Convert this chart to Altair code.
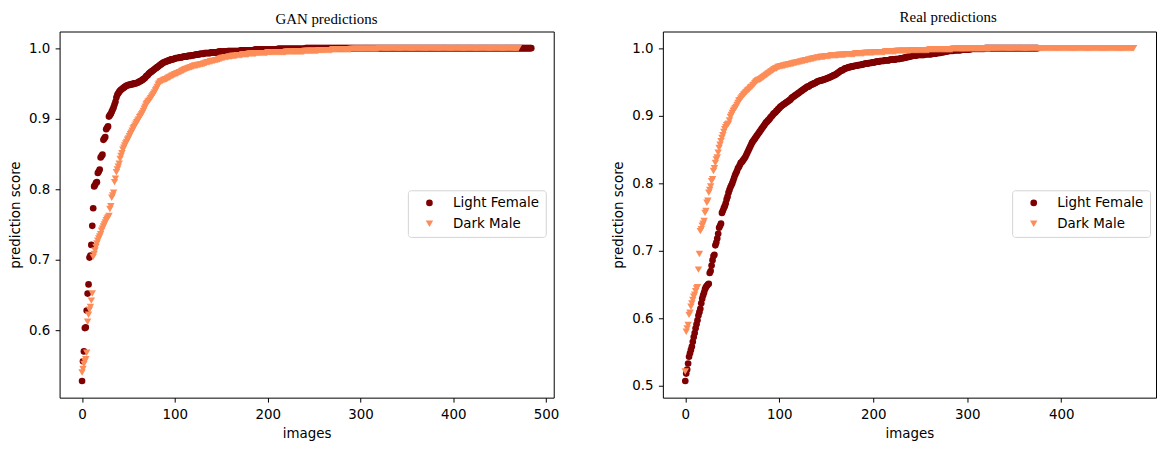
import altair as alt
import pandas as pd

GROUPS = ["Light Female", "Dark Male"]
COLORS = ["#7f0000", "#fc8d59"]
SHAPES = ["circle", "triangle-down"]

GAN_LIGHT_FEMALE = [
    0.528, 0.556, 0.570, 0.603, 0.604, 0.628, 0.652, 0.665, 0.703, 0.706,
    0.721, 0.748, 0.773, 0.804, 0.806, 0.809, 0.810, 0.823, 0.825, 0.828,
    0.845, 0.847, 0.849, 0.870, 0.872, 0.874, 0.885, 0.887, 0.889, 0.903,
    0.905, 0.907, 0.910, 0.913, 0.916, 0.920, 0.924, 0.930, 0.934, 0.936,
    0.938, 0.940, 0.941, 0.942, 0.943, 0.944, 0.945, 0.946, 0.947, 0.947,
    0.948, 0.948, 0.948, 0.949, 0.949, 0.949, 0.950, 0.950, 0.950, 0.951,
    0.951, 0.952, 0.953, 0.953, 0.954, 0.955, 0.956, 0.957, 0.958, 0.960,
    0.961, 0.962, 0.964, 0.965, 0.966, 0.967, 0.968, 0.969, 0.970, 0.971,
    0.972, 0.973, 0.974, 0.975, 0.976, 0.977, 0.978, 0.979, 0.980, 0.980,
    0.981, 0.981, 0.982, 0.982, 0.983, 0.983, 0.984, 0.984, 0.984, 0.985,
    0.985,
] + [0.986] * 4 + [0.987] * 4 + [0.988] * 5 + [0.989] * 4 + [0.990] * 4 \
  + [0.991] * 5 + [0.992] * 5 + [0.993] * 7 + [0.994] * 8 + [0.995] * 10 \
  + [0.996] * 14 + [0.997] * 15 + [0.998] * 25 + [0.999] * 30 + [1.0] * 244

GAN_DARK_MALE = [
    0.540, 0.545, 0.552, 0.556, 0.559, 0.568, 0.612, 0.622, 0.629, 0.633,
    0.642, 0.652, 0.704, 0.708, 0.713, 0.718, 0.723, 0.727, 0.730, 0.733,
    0.736, 0.741, 0.744, 0.747, 0.750, 0.753, 0.756, 0.758, 0.760, 0.762,
    0.772, 0.776, 0.788, 0.791, 0.795, 0.810, 0.815, 0.824, 0.828, 0.832,
    0.836, 0.843, 0.847, 0.851, 0.856, 0.859, 0.862, 0.865, 0.867, 0.870,
    0.872, 0.875, 0.878, 0.880, 0.883, 0.886, 0.888, 0.890, 0.893, 0.895,
    0.897, 0.899, 0.902, 0.904, 0.906, 0.908, 0.911, 0.914, 0.917, 0.920,
    0.922, 0.924, 0.925, 0.927, 0.929, 0.931, 0.933, 0.935, 0.937, 0.940,
    0.942, 0.945, 0.948, 0.950, 0.952, 0.953, 0.953, 0.954, 0.955, 0.955,
    0.956, 0.956, 0.957, 0.958, 0.958, 0.959, 0.960, 0.961, 0.961, 0.962,
    0.963, 0.963, 0.964, 0.964, 0.965, 0.966, 0.966, 0.967, 0.968, 0.968,
    0.969, 0.970, 0.970, 0.971, 0.971, 0.972, 0.972, 0.973, 0.973, 0.974,
    0.974,
] + [0.975] * 4 + [0.976] * 3 + [0.977] * 3 + [0.978] * 2 + [0.979] * 2 \
  + [0.980] * 3 + [0.981] * 3 + [0.982] * 3 + [0.983] * 3 + [0.984] * 2 \
  + [0.985] * 2 + [0.986] * 3 + [0.987] * 4 + [0.988] * 4 + [0.989] * 5 \
  + [0.990] * 6 + [0.991] * 7 + [0.992] * 8 + [0.993] * 12 + [0.994] * 20 \
  + [0.995] * 20 + [0.996] * 15 + [0.997] * 15 + [0.998] * 20 + [0.999] * 30 \
  + [1.0] * 151

REAL_LIGHT_FEMALE = [
    0.507, 0.518, 0.524, 0.533, 0.543, 0.548, 0.553, 0.558, 0.565, 0.572,
    0.578, 0.585, 0.591, 0.597, 0.604, 0.609, 0.614, 0.622, 0.629, 0.634,
    0.638, 0.643, 0.646, 0.648, 0.650, 0.651, 0.667, 0.670, 0.678, 0.686,
    0.692, 0.694, 0.708, 0.712, 0.718, 0.725, 0.734, 0.737, 0.740, 0.756,
    0.759, 0.763, 0.766, 0.770, 0.776, 0.780, 0.786, 0.790, 0.794, 0.797,
    0.800, 0.804, 0.808, 0.812, 0.815, 0.818, 0.822, 0.824, 0.827, 0.830,
    0.831, 0.833, 0.835, 0.837, 0.839, 0.842, 0.845, 0.848, 0.851, 0.854,
    0.857, 0.860, 0.862, 0.864, 0.866, 0.868, 0.870, 0.872, 0.874, 0.876,
    0.878, 0.880, 0.882, 0.884, 0.886, 0.888, 0.890, 0.891, 0.893, 0.894,
    0.896, 0.898, 0.899, 0.901, 0.903, 0.904, 0.905, 0.907, 0.908, 0.910,
    0.911, 0.913, 0.914, 0.915, 0.916, 0.917, 0.918, 0.919, 0.920, 0.921,
    0.922, 0.923, 0.924, 0.926, 0.927, 0.928, 0.929, 0.930, 0.931, 0.932,
    0.933, 0.934, 0.935, 0.936, 0.937, 0.938, 0.939, 0.940, 0.941, 0.942,
    0.943, 0.943, 0.944, 0.945, 0.946, 0.946, 0.947, 0.948, 0.948, 0.949,
    0.950,
] + [0.951] * 2 + [0.952] * 3 + [0.953] * 2 + [0.954] * 2 + [0.955] * 2 \
  + [0.956] * 2 + [0.957] + [0.958] * 2 + [0.959] + [0.960] * 2 + [0.961] \
  + [0.962] + [0.963] + [0.964] + [0.965] + [0.966] + [0.967] * 2 + [0.968] \
  + [0.969] + [0.970] * 2 + [0.971] * 2 + [0.972] * 3 + [0.973] * 3 \
  + [0.974] * 4 + [0.975] * 4 + [0.976] * 3 + [0.977] * 4 + [0.978] * 4 \
  + [0.979] * 4 + [0.980] * 4 + [0.981] * 5 + [0.982] * 6 + [0.983] * 6 \
  + [0.984] * 5 + [0.985] * 4 + [0.986] * 3 + [0.987] * 3 + [0.988] * 3 \
  + [0.989] * 5 + [0.990] * 8 + [0.991] * 8 + [0.992] * 5 + [0.993] * 4 \
  + [0.994] * 4 + [0.995] * 4 + [0.996] * 6 + [0.997] * 8 + [0.998] * 10 \
  + [0.999] * 15 + [1.0] * 57

REAL_DARK_MALE = [
    0.521, 0.580, 0.585, 0.590, 0.605, 0.608, 0.617, 0.622, 0.627, 0.632,
    0.635, 0.640, 0.644, 0.646, 0.672, 0.695, 0.729, 0.732, 0.737, 0.740,
    0.744, 0.756, 0.759, 0.771, 0.774, 0.786, 0.790, 0.795, 0.803, 0.806,
    0.818, 0.822, 0.830, 0.835, 0.838, 0.845, 0.852, 0.857, 0.862, 0.867,
    0.871, 0.876, 0.880, 0.883, 0.886, 0.887, 0.888, 0.893, 0.898, 0.901,
    0.904, 0.907, 0.909, 0.911, 0.913, 0.916, 0.919, 0.922, 0.923, 0.925,
    0.927, 0.929, 0.931, 0.932, 0.934, 0.935, 0.937, 0.938, 0.939, 0.941,
    0.942, 0.943, 0.945, 0.946, 0.948, 0.950, 0.951, 0.952, 0.953, 0.953,
    0.954, 0.955, 0.956, 0.957, 0.958, 0.959, 0.960, 0.961, 0.962, 0.963,
    0.964, 0.965, 0.966, 0.967, 0.968, 0.969, 0.970, 0.970, 0.971, 0.972,
    0.972,
] + [0.973] * 3 + [0.974] * 3 + [0.975] * 3 + [0.976] * 3 + [0.977] * 3 \
  + [0.978] * 3 + [0.979] * 3 + [0.980] * 3 + [0.981] * 3 + [0.982] * 3 \
  + [0.983] * 3 + [0.984] * 3 + [0.985] * 3 + [0.986] * 4 + [0.987] * 5 \
  + [0.988] * 6 + [0.989] * 8 + [0.990] * 8 + [0.991] * 10 + [0.992] * 10 \
  + [0.993] * 10 + [0.994] * 12 + [0.995] * 12 + [0.996] * 15 + [0.997] * 20 \
  + [0.998] * 25 + [0.999] * 40 + [1.0] * 153

GAN_X_TICKS = [0, 100, 200, 300, 400, 500]
GAN_Y_TICKS = [0.6, 0.7, 0.8, 0.9, 1.0]
REAL_X_TICKS = [0, 100, 200, 300, 400]
REAL_Y_TICKS = [0.5, 0.6, 0.7, 0.8, 0.9, 1.0]

FONT = "DejaVu Sans"
FS = 13.5


def frame(lf, dm):
    rows = [{"image": i, "score": v, "group": GROUPS[0]} for i, v in enumerate(lf)]
    rows += [{"image": i, "score": v, "group": GROUPS[1]} for i, v in enumerate(dm)]
    return pd.DataFrame(rows)


def panel(lf, dm, title, xticks, yticks, title_dx, title_offset, width, legend_x):
    df = frame(lf, dm)
    xmax = max(len(lf), len(dm)) - 1
    ymin = min(min(lf), min(dm))
    ymax = max(max(lf), max(dm))
    ym = 0.05 * (ymax - ymin)
    legend = alt.Legend(
        title=None, orient="none", legendX=legend_x, legendY=160,
        fillColor="white", strokeColor="#d4d4d4", cornerRadius=3, padding=6,
        labelFont=FONT, labelFontSize=FS, labelColor="black",
        symbolSize=50, symbolOffset=9, labelOffset=17, rowPadding=6,
        symbolStrokeWidth=0,
    )
    return alt.Chart(df).mark_point(filled=True, opacity=1).encode(
        x=alt.X("image:Q",
                scale=alt.Scale(domain=[-0.05 * xmax, 1.05 * xmax], nice=False, zero=False),
                axis=alt.Axis(values=xticks, title="images", format="d")),
        y=alt.Y("score:Q",
                scale=alt.Scale(domain=[ymin - ym, ymax + ym], nice=False, zero=False),
                axis=alt.Axis(values=yticks, title="prediction score", format=".1f")),
        color=alt.Color("group:N", scale=alt.Scale(domain=GROUPS, range=COLORS), legend=legend),
        shape=alt.Shape("group:N", scale=alt.Scale(domain=GROUPS, range=SHAPES), legend=legend),
        size=alt.Size("group:O", scale=alt.Scale(domain=GROUPS, range=[45, 56]), legend=None),
    ).properties(
        width=width, height=369,
        title=alt.TitleParams(title, font="Liberation Serif", fontSize=15,
                              fontWeight="normal", color="black", anchor="middle",
                              dx=title_dx, offset=title_offset),
    )


left = panel(GAN_LIGHT_FEMALE, GAN_DARK_MALE, "GAN predictions",
             GAN_X_TICKS, GAN_Y_TICKS, 20, 4.5, 498, 351)
right = panel(REAL_LIGHT_FEMALE, REAL_DARK_MALE, "Real predictions",
              REAL_X_TICKS, REAL_Y_TICKS, 39, 6.5, 497, 352)

chart = alt.hconcat(left, right, spacing=52).resolve_scale(
    x="independent", y="independent", color="independent", shape="independent", size="independent"
).resolve_legend(
    color="independent", shape="independent", size="independent"
).configure_view(
    stroke="black", strokeWidth=1
).configure_axis(
    domain=False, grid=False, ticks=True, tickColor="black", tickSize=4.5,
    labelFont=FONT, labelFontSize=FS, labelColor="black", labelPadding=5.5,
    titleFont=FONT, titleFontSize=FS, titleFontWeight="normal", titleColor="black",
    titlePadding=6,
).properties(
    padding={"left": 0, "top": 0, "right": 0, "bottom": 0}, background="white"
)

chart.save("out.html", embed_options={"renderer": "svg", "actions": False})
